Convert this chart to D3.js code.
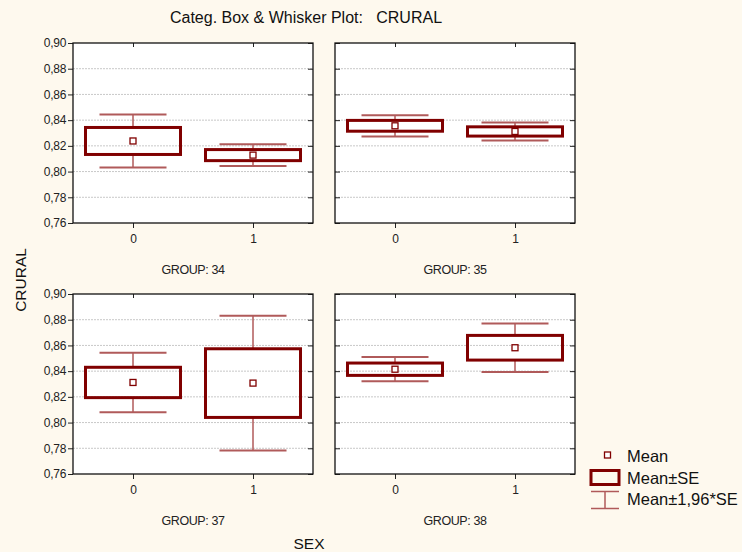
<!DOCTYPE html>
<html><head><meta charset="utf-8">
<script src="https://cdn.jsdelivr.net/npm/d3@7"></script>
<style>
html,body{margin:0;padding:0;background:#FEF9EE;}
svg{display:block;font-family:"Liberation Sans",Arial,sans-serif;}
</style></head>
<body><svg id="c" width="742" height="552"></svg>
<script>
const groups = ["34", "35", "37", "38"];
const sexes = ["0", "1"];
// mean and standard error for each group, by SEX 0 / 1
const means = [[0.8238, 0.8128], [0.8356, 0.8312], [0.8312, 0.8307], [0.8415, 0.8582]];
const ses   = [[0.0105, 0.0043], [0.0042, 0.0036], [0.0118, 0.0267], [0.0048, 0.0096]];
const yTicks = [0.76, 0.78, 0.80, 0.82, 0.84, 0.86, 0.88, 0.90];
const legendLabels = ["Mean", "Mean±SE", "Mean±1,96*SE"];

const svg = d3.select("#c");
const boxColor = "#800000", whiskColor = "#B05A5A";
const pw = 240, ph = 180;
const panelPos = [[73, 43], [335, 43], [73, 294], [335, 294]];
const fmt = d => d.toFixed(2).replace(".", ",");

const y = d3.scaleLinear().domain([0.76, 0.90]).range([ph, 0]);
const x = d3.scalePoint().domain(sexes).range([0, pw]).padding(0.5);

groups.forEach((g, gi) => {
  const [px, py] = panelPos[gi];
  const p = svg.append("g").attr("transform", `translate(${px},${py})`);
  p.append("rect").attr("width", pw).attr("height", ph).attr("fill", "#fff");
  p.selectAll("line.grid").data(yTicks.slice(1, -1)).join("line")
    .attr("x1", 0).attr("x2", pw).attr("y1", d => y(d)).attr("y2", d => y(d))
    .attr("stroke", "#c8c8c8").attr("stroke-dasharray", "2,1").attr("stroke-width", 1);
  const left = gi % 2 === 0;
  if (left) {
    p.append("g").call(d3.axisLeft(y).tickValues(yTicks).tickFormat(fmt).tickSize(5).tickSizeOuter(0).tickPadding(2))
      .call(a => a.select(".domain").remove())
      .call(a => a.selectAll("text").attr("font-size", 12).attr("fill", "#222").attr("letter-spacing", "-0.3"))
      .call(a => a.selectAll("line").attr("stroke", "#222"));
  } else {
    p.append("g").call(d3.axisRight(y).tickValues(yTicks).tickFormat("").tickSize(5).tickSizeOuter(0))
      .call(a => a.select(".domain").remove())
      .call(a => a.selectAll("line").attr("stroke", "#222"));
  }
  p.append("g").attr("transform", `translate(${pw},0)`)
    .call(d3.axisLeft(y).tickValues(yTicks).tickFormat("").tickSize(5).tickSizeOuter(0))
    .call(a => a.select(".domain").remove())
    .call(a => a.selectAll("line").attr("stroke", "#222"));
  p.append("g").attr("transform", `translate(0,${ph})`)
    .call(d3.axisBottom(x).tickSize(5).tickSizeOuter(0).tickPadding(6))
    .call(a => a.select(".domain").remove())
    .call(a => a.selectAll("text").attr("font-size", 12).attr("fill", "#222"))
    .call(a => a.selectAll("line").attr("stroke", "#222"));
  p.append("g").call(d3.axisBottom(x).tickSize(4).tickSizeOuter(0).tickFormat(""))
    .call(a => a.select(".domain").remove())
    .call(a => a.selectAll("line").attr("stroke", "#222"));
  p.append("rect").attr("width", pw).attr("height", ph).attr("fill", "none")
    .attr("stroke", "#111").attr("stroke-width", 1.3);

  sexes.forEach((s, si) => {
    const m = means[gi][si], se = ses[gi][si];
    const cx = x(s);
    const wl = m - 1.96 * se, wh = m + 1.96 * se;
    p.append("line").attr("x1", cx).attr("x2", cx).attr("y1", y(wh)).attr("y2", y(m + se))
      .attr("stroke", whiskColor).attr("stroke-width", 1.5);
    p.append("line").attr("x1", cx).attr("x2", cx).attr("y1", y(m - se)).attr("y2", y(wl))
      .attr("stroke", whiskColor).attr("stroke-width", 1.5);
    [wh, wl].forEach(v => p.append("line").attr("x1", cx - 33.5).attr("x2", cx + 33.5)
      .attr("y1", y(v)).attr("y2", y(v)).attr("stroke", whiskColor).attr("stroke-width", 2));
    p.append("rect").attr("x", cx - 47.5).attr("width", 95)
      .attr("y", y(m + se)).attr("height", y(m - se) - y(m + se))
      .attr("fill", "none").attr("stroke", boxColor).attr("stroke-width", 3);
    p.append("rect").attr("x", cx - 3).attr("y", y(m) - 3).attr("width", 6).attr("height", 6)
      .attr("fill", "#fff").attr("stroke", boxColor).attr("stroke-width", 1.3);
  });

  svg.append("text").attr("x", px + pw / 2).attr("y", py + ph + 51)
    .attr("text-anchor", "middle").attr("font-size", 12.5).attr("fill", "#222")
    .attr("letter-spacing", "-0.4").text("GROUP: " + g);
});

svg.append("text").attr("x", 306).attr("y", 23).attr("text-anchor", "middle")
  .attr("font-size", 16).attr("fill", "#111").attr("xml:space", "preserve")
  .text("Categ. Box & Whisker Plot:   CRURAL");
svg.append("text").attr("transform", "translate(26,280) rotate(-90)").attr("text-anchor", "middle")
  .attr("font-size", 15.5).attr("fill", "#111").text("CRURAL");
svg.append("text").attr("x", 309).attr("y", 549).attr("text-anchor", "middle")
  .attr("font-size", 15.5).attr("fill", "#111").text("SEX");

const lg = svg.append("g");
lg.append("rect").attr("x", 604.5).attr("y", 452).attr("width", 6).attr("height", 6)
  .attr("fill", "#fff").attr("stroke", boxColor).attr("stroke-width", 1.3);
lg.append("rect").attr("x", 591).attr("y", 470.5).attr("width", 28).attr("height", 14)
  .attr("fill", "none").attr("stroke", boxColor).attr("stroke-width", 3);
lg.append("line").attr("x1", 591).attr("x2", 619).attr("y1", 491.5).attr("y2", 491.5).attr("stroke", whiskColor).attr("stroke-width", 1.5);
lg.append("line").attr("x1", 591).attr("x2", 619).attr("y1", 508.5).attr("y2", 508.5).attr("stroke", whiskColor).attr("stroke-width", 1.5);
lg.append("line").attr("x1", 605).attr("x2", 605).attr("y1", 491.5).attr("y2", 508.5).attr("stroke", whiskColor).attr("stroke-width", 1.5);
legendLabels.forEach((t, i) => lg.append("text").attr("x", 627).attr("y", 462 + i * 21.7)
  .attr("font-size", 16.5).attr("fill", "#111").text(t));
</script></body></html>
